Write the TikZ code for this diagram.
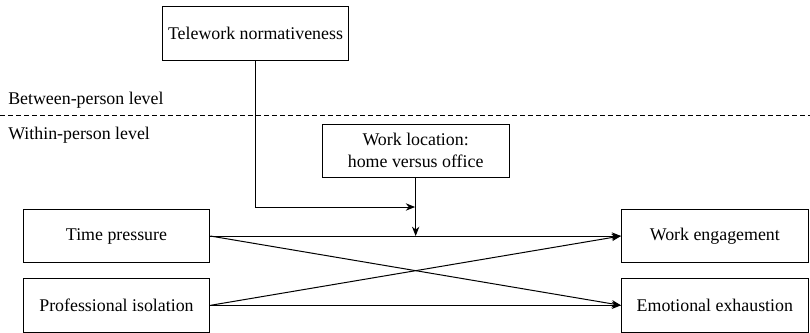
\documentclass[tikz,border=0pt]{standalone}
\usepackage{fontspec}
\setmainfont{Liberation Serif}
\usetikzlibrary{positioning,arrows.meta,calc}

\begin{document}
\begin{tikzpicture}[
        x=0.75pt, y=-0.75pt,
        font=\rmfamily\fontsize{13.4}{16.5}\selectfont,
        arrow/.style={-{Stealth[length=7pt, width=5.5pt, inset=2.2pt]}, line width=0.75pt},
        varbox/.style={
            draw,
            line width=0.75pt,
            align=center,
            minimum width=140pt,
            minimum height=40pt,
            inner sep=3pt
        },
        level/.style={anchor=west, inner sep=0pt}
    ]
    \useasboundingbox (0,0) rectangle (810,332);

    % Step 1: between-person moderator
    \node[varbox] (tele) at (255.5,33.5) {Telework normativeness};

    % Step 2: split between the two levels
    \coordinate (splitL) at (0,115);
    \coordinate (splitR) at (810,115);
    \draw[line width=0.75pt, dash pattern=on 3.5pt off 2.5pt] (splitL) -- (splitR);

    \node[level] (between) at (8,100) {Between-person level};
    \node[level] (within) at (8,135) {Within-person level};

    % Step 3: predictors and outcomes
    \node[varbox] (time) at (116.5,236) {Time pressure};
    \node[varbox, below=11.25pt of time] (isol) {Professional isolation};
    \node[varbox, right=308pt of time] (engage) {Work engagement};
    \node[varbox, below=11.25pt of engage] (exhaust) {Emotional exhaustion};

    % Step 4: within-person moderator
    \node[
        varbox,
        above=43.5pt of $(time.east)!0.5!(engage.west)$
    ] (location) {Work location:\\home versus office};

    % Step 5: paths
    \draw[arrow] (time) -- (engage);
    \draw[arrow] (time.east) -- (exhaust.west);
    \draw[arrow] (isol.east) -- (engage.west);
    \draw[arrow] (isol) -- (exhaust);

    \coordinate (hit) at ($(time.east)!0.5!(engage.west)$);
    \coordinate (joint) at ($(location.south)!0.5!(hit)$);
    \draw[arrow] (location) -- (hit);
    \draw[arrow, shorten >=0.4pt] (tele.south) |- (joint);

\end{tikzpicture}
\end{document}
